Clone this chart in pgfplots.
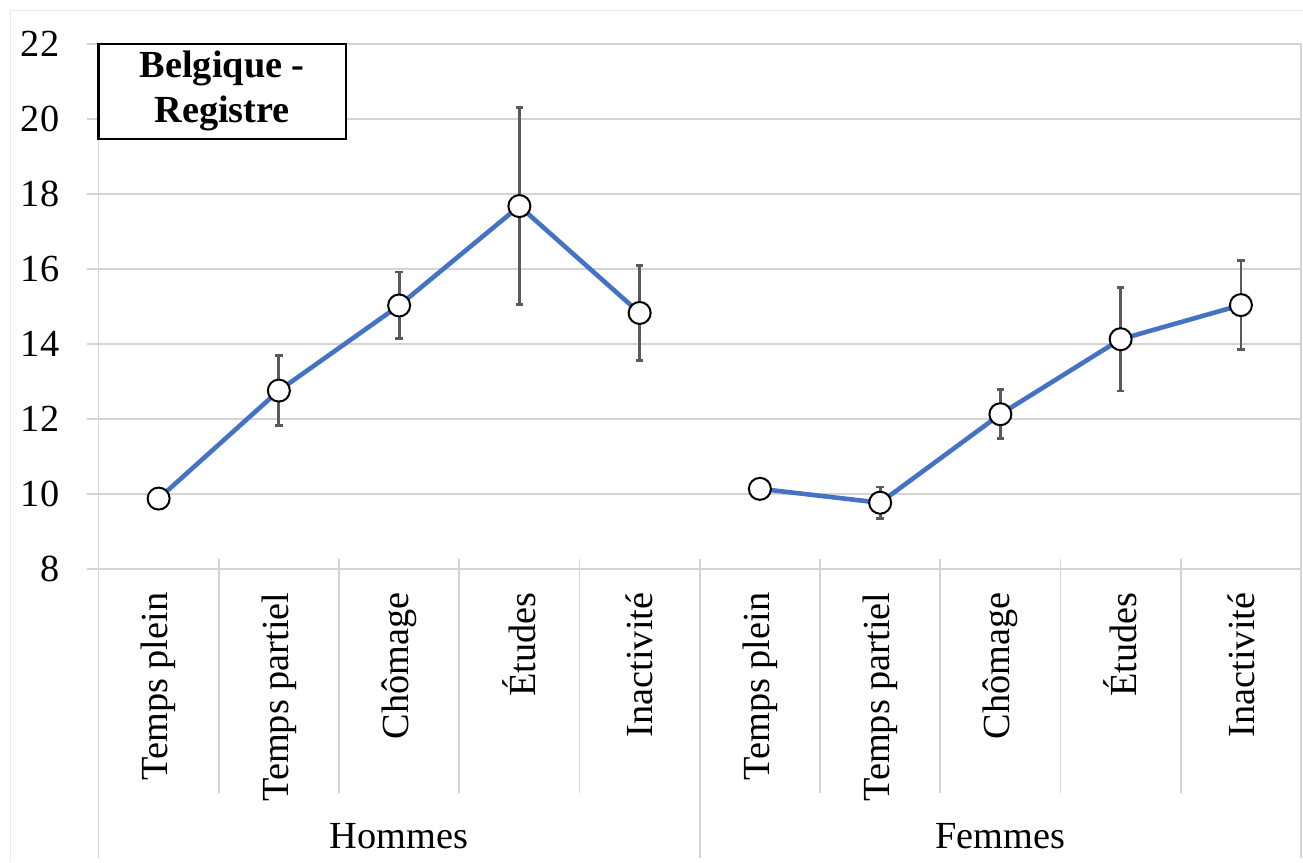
\documentclass[border=0pt]{standalone}
\usepackage{fontspec}
\setmainfont{Liberation Serif}
\usepackage{pgfplots}
\pgfplotsset{compat=1.18}
\definecolor{serie}{HTML}{4472C4}
\definecolor{grille}{HTML}{D4D4D4}
\definecolor{barre}{HTML}{5A5A5A}
\begin{document}
\fontsize{10.9pt}{12.6pt}\selectfont
\begin{tikzpicture}
\path[use as bounding box] (0,0) rectangle (13.03,8.62);
% cadre exterieur tres clair
\draw[color=black!8, line width=0.01cm] (0.10,0) -- (0.10,8.52) -- (13.03,8.52);
\begin{axis}[
  at={(0.985cm,2.933cm)}, anchor=south west,
  scale only axis, width=12.025cm, height=5.25cm,
  xmin=-0.5, xmax=9.5, ymin=8, ymax=22,
  xtick=\empty,
  ytick={8,10,...,22}, ytick pos=left,
  ymajorgrids, grid style={grille, line width=0.016cm},
  tick align=outside, major tick length=0.12cm,
  ytick style={grille, line width=0.016cm},
  yticklabel style={anchor=east, inner sep=0pt, xshift=-0.265cm},
  /pgf/number format/assume math mode=true,
  axis line style={draw=none},
  clip=false,
]
  % separateurs de categories
  \draw[grille, line width=0.016cm] (axis cs:-0.5,22) -- (axis cs:-0.5,0.29);
  \draw[grille, line width=0.016cm] (axis cs:9.5,22) -- (axis cs:9.5,0.29);
  \draw[grille, line width=0.016cm] (axis cs:4.5,8.26) -- (axis cs:4.5,0.29);
  \pgfplotsinvokeforeach{0.5,1.5,2.5,3.5,5.5,6.5,7.5,8.5}{
    \draw[grille, line width=0.016cm] (axis cs:#1,8.26) -- (axis cs:#1,2.02);
  }
  % noms des categories
  \pgfplotsinvokeforeach{0,5}{
    \node[rotate=90, anchor=east, inner sep=0pt] at (axis cs:#1,7.38) {Temps plein};
    \node[rotate=90, anchor=east, inner sep=0pt] at (axis cs:#1+1,7.38) {Temps partiel};
    \node[rotate=90, anchor=east, inner sep=0pt] at (axis cs:#1+2,7.38) {Chômage};
    \node[rotate=90, anchor=east, inner sep=0pt] at (axis cs:#1+3,7.38) {Études};
    \node[rotate=90, anchor=east, inner sep=0pt] at (axis cs:#1+4,7.38) {Inactivité};
  }
  \node[anchor=base] at (axis cs:2,0.55) {Hommes};
  \node[anchor=base] at (axis cs:7,0.55) {Femmes};

  % encadre du titre
  \draw[black, line width=0.022cm, fill=white] (axis cs:-0.5,22) rectangle (axis cs:1.558,19.46);
  \node[align=center, font=\bfseries, inner sep=0pt] at (axis cs:0.529,20.74) {Belgique -\\Registre};

  % Hommes
  \addplot[serie, line width=0.046cm, mark=*, mark size=0.11cm,
    mark options={fill=white, draw=black, line width=0.02cm, solid},
    error bars/.cd, y dir=both, y explicit,
    error bar style={barre, line width=0.028cm},
    error mark options={barre, rotate=90, mark size=0.038cm, line width=0.028cm}]
    coordinates {
      (0,9.87)  +- (0,0)
      (1,12.75) +- (0,0.93)
      (2,15.02) +- (0,0.89)
      (3,17.67) +- (0,2.62)
      (4,14.82) +- (0,1.27)
    };
  % Femmes
  \addplot[serie, line width=0.046cm, mark=*, mark size=0.11cm,
    mark options={fill=white, draw=black, line width=0.02cm, solid},
    error bars/.cd, y dir=both, y explicit,
    error bar style={barre, line width=0.028cm},
    error mark options={barre, rotate=90, mark size=0.038cm, line width=0.028cm}]
    coordinates {
      (5,10.13) +- (0,0)
      (6,9.76)  +- (0,0.42)
      (7,12.12) +- (0,0.65)
      (8,14.12) +- (0,1.38)
      (9,15.03) +- (0,1.19)
    };
\end{axis}
\end{tikzpicture}
\end{document}
